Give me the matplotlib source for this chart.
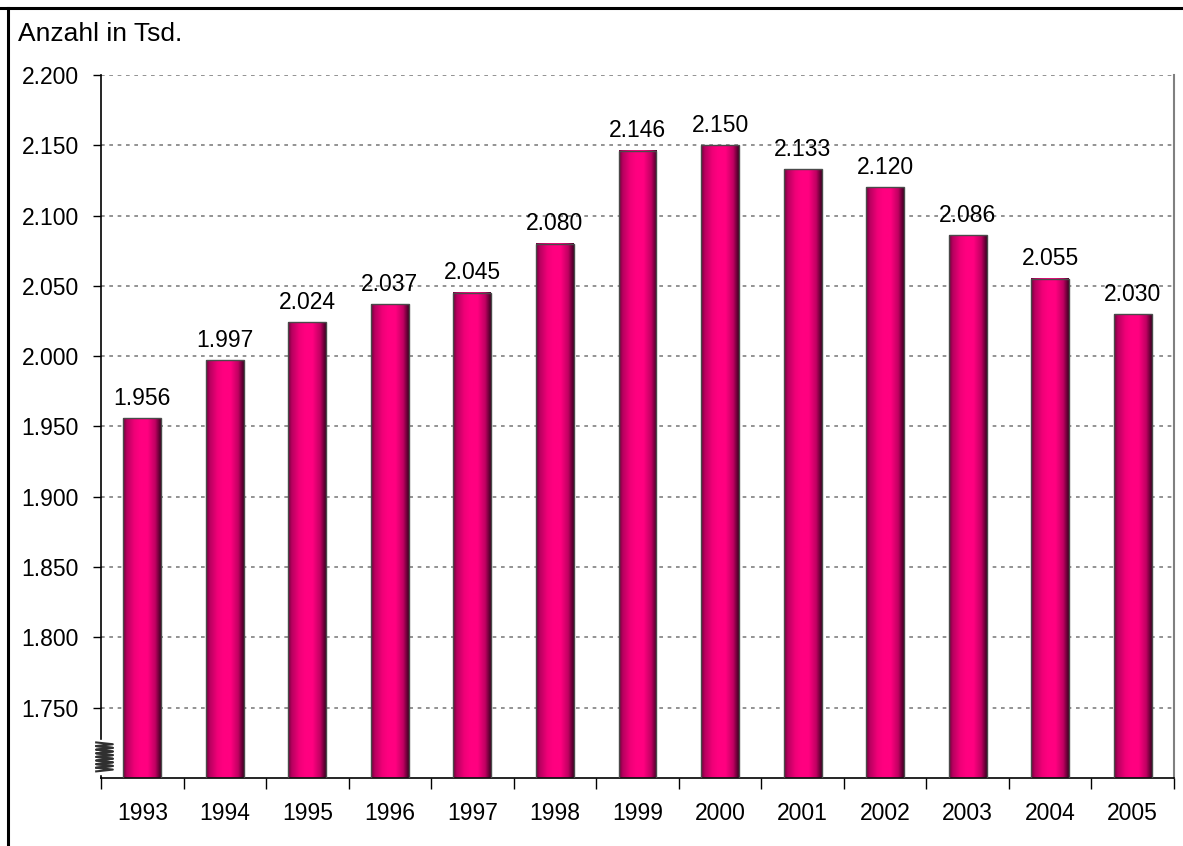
import matplotlib
matplotlib.use("Agg")
import matplotlib.pyplot as plt
import numpy as np
from matplotlib.colors import LinearSegmentedColormap
from matplotlib.lines import Line2D

years = ["1993", "1994", "1995", "1996", "1997", "1998", "1999", "2000",
         "2001", "2002", "2003", "2004", "2005"]
values = [1956, 1997, 2024, 2037, 2045, 2080, 2146, 2150, 2133, 2120, 2086, 2055, 2030]
y_ticks = [1750, 1800, 1850, 1900, 1950, 2000, 2050, 2100, 2150, 2200]
y_min, y_max = 1700, 2200

plt.rcParams['font.family'] = ['Liberation Sans', 'DejaVu Sans']
FS = 16.5

def fmt(v):
    return f"{v:,}".replace(",", ".")

fig = plt.figure(figsize=(11.83, 8.46), dpi=100)
ax = fig.add_axes([101/1183, 68/846, (1174-101)/1183, (778-75)/846])

x = np.arange(len(years))
bars = ax.bar(x, [v - y_min for v in values], bottom=y_min, width=0.46,
              facecolor='none', edgecolor='#4a4a4a', linewidth=1.0, zorder=3)

cmap = LinearSegmentedColormap.from_list("pinkbar", [
    (0.0, "#6a0038"), (0.1, "#b8005f"), (0.3, "#f00078"), (0.45, "#ff0080"),
    (0.65, "#ff0080"), (0.85, "#c00062"), (1.0, "#3e0022")])
grad = np.linspace(0, 1, 256).reshape(1, -1)
for b in bars:
    x0 = b.get_x(); w = b.get_width(); y0 = b.get_y(); h = b.get_height()
    ax.imshow(grad, cmap=cmap, aspect='auto', extent=[x0, x0 + w, y0, y0 + h],
              zorder=2, interpolation='bilinear')

for xi, v in zip(x, values):
    ax.text(xi, v + 6, fmt(v), ha='center', va='bottom', fontsize=FS, color='black', zorder=4)

ax.set_xlim(-0.5, len(years) - 0.5)
ax.set_ylim(y_min, y_max)
ax.set_yticks(y_ticks)
ax.set_yticklabels([fmt(v) for v in y_ticks], fontsize=FS)
ax.set_xticks(x)
ax.set_xticklabels(years, fontsize=FS)
ax.set_xticks(np.arange(-0.5, len(years), 1.0), minor=True)
ax.tick_params(axis='x', which='major', length=0, pad=17)
ax.tick_params(axis='x', which='minor', length=8, width=1, color='black', direction='out')
ax.tick_params(axis='y', length=6, width=1, direction='out', pad=10)

ax.yaxis.grid(True, linestyle=(0, (2.2, 2.8)), color='#808080', linewidth=1.2, zorder=1)
ax.set_axisbelow(True)

ax.spines['left'].set_color('black')
ax.spines['bottom'].set_color('black')
ax.spines['left'].set_linewidth(1.2)
ax.spines['bottom'].set_linewidth(1.2)
ax.spines['right'].set_color('#808080')
ax.spines['right'].set_linewidth(1.5)
ax.spines['top'].set_visible(False)

# axis break symbol
tr = ax.get_yaxis_transform()
n = 7
ys0 = np.linspace(1706, 1724, n * 2 + 1)
xs = np.array([-0.0045 if i % 2 == 0 else 0.011 for i in range(len(ys0))])
ax.fill_between(np.r_[-0.006, 0.012], 1703, 1727, color='white', transform=tr, clip_on=False, zorder=5)
for off in (-1.3, 1.3):
    ax.plot(xs, ys0 + off, color='#303030', lw=1.5, transform=tr, clip_on=False, zorder=6)

# figure frame
fig.add_artist(Line2D([0, 1], [1 - 8.5/846, 1 - 8.5/846], color='black', lw=2.2, transform=fig.transFigure))
fig.add_artist(Line2D([8/1183, 8/1183], [0, 1 - 8.5/846], color='black', lw=2.2, transform=fig.transFigure))

fig.text(18/1183, 1 - 34/846, "Anzahl in Tsd.", fontsize=19, va='center', ha='left')

fig.savefig("out.png", dpi=100)
